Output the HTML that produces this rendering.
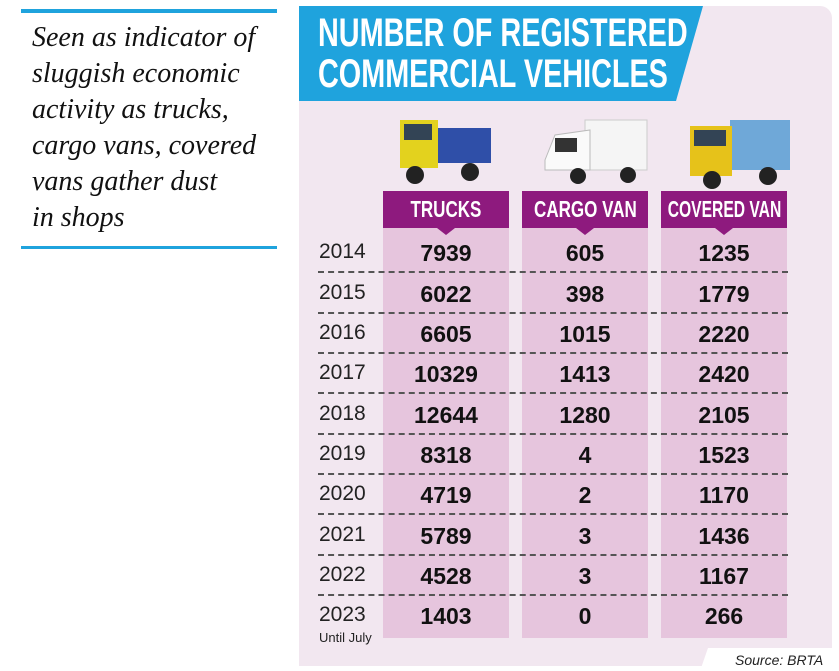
<!DOCTYPE html>
<html><head><meta charset="utf-8"><style>
body{margin:0;width:839px;height:671px;background:#fff;position:relative;overflow:hidden;font-family:"Liberation Sans",sans-serif}
.abs{position:absolute}
.txt{left:32px;top:20px;font-family:"Liberation Serif",serif;font-style:italic;font-size:28px;line-height:36px;color:#111;white-space:nowrap}
.panel{left:299px;top:6px;width:533px;height:660px;background:#f2e7f0;border-radius:0 12px 0 0}
.col{background:#e6c5dd}
.hd{color:#fff;font-weight:bold;font-size:23px;line-height:37px;width:126px;white-space:nowrap;display:flex;justify-content:center}
.hd span{display:inline-block;transform:scaleX(.74)}
.yr{left:319px;font-size:21px;color:#222}
.num{font-weight:bold;font-size:23px;text-align:center;width:126px;color:#111}
.dash{left:318px;width:470px;border-top:2px dashed #555}
</style></head><body>
<div class="abs" style="left:21px;top:9px;width:256px;height:4px;background:#1fa3dd"></div>
<div class="abs" style="left:21px;top:246px;width:256px;height:3px;background:#1fa3dd"></div>
<div class="abs txt">Seen as indicator of<br>sluggish economic<br>activity as trucks,<br>cargo vans, covered<br>vans gather dust<br>in shops</div>
<div class="abs panel"></div>
<svg class="abs" style="left:299px;top:6px" width="410" height="96"><polygon points="0,0 404,0 377,95 0,95" fill="#1fa3dd"/></svg>
<div class="abs" style="left:318px;top:13px;color:#fff;font-weight:bold;font-size:40px;line-height:41px;transform:scaleX(.72);transform-origin:left top;white-space:nowrap">NUMBER OF REGISTERED<br>COMMERCIAL VEHICLES</div>
<div class="abs col" style="left:383px;top:191px;width:126px;height:447px"></div>
<div class="abs col" style="left:522px;top:191px;width:126px;height:447px"></div>
<div class="abs col" style="left:661px;top:191px;width:126px;height:447px"></div>
<div class="abs" style="left:383px;top:191px;width:126px;height:37px;background:#8e1a7e"></div>
<div class="abs" style="left:522px;top:191px;width:126px;height:37px;background:#8e1a7e"></div>
<div class="abs" style="left:661px;top:191px;width:126px;height:37px;background:#8e1a7e"></div>
<svg class="abs" style="left:0;top:0" width="839" height="671">
<polygon points="437,228 455,228 446,235" fill="#8e1a7e"/>
<polygon points="576,228 594,228 585,235" fill="#8e1a7e"/>
<polygon points="715,228 733,228 724,235" fill="#8e1a7e"/>
<rect x="433" y="128" width="58" height="35" fill="#2f4fa8"/><rect x="400" y="120" width="38" height="48" fill="#e3d21e"/><rect x="404" y="124" width="28" height="16" fill="#345"/><circle cx="415" cy="175" r="9" fill="#222"/><circle cx="470" cy="172" r="9" fill="#222"/>
<rect x="585" y="120" width="62" height="50" fill="#f5f5f5" stroke="#ccc"/><path d="M545,160 L555,135 L590,130 L590,170 L545,170Z" fill="#fafafa" stroke="#bbb"/><rect x="555" y="138" width="22" height="14" fill="#333"/><circle cx="578" cy="176" r="8" fill="#222"/><circle cx="628" cy="175" r="8" fill="#222"/>
<rect x="730" y="120" width="60" height="50" fill="#6fa8d8"/><rect x="690" y="126" width="42" height="50" fill="#e6c21a"/><rect x="694" y="130" width="32" height="16" fill="#345"/><circle cx="712" cy="180" r="9" fill="#222"/><circle cx="768" cy="176" r="9" fill="#222"/>
</svg>
<div class="abs hd" style="left:383px;top:191px"><span>TRUCKS</span></div>
<div class="abs hd" style="left:522px;top:191px"><span>CARGO VAN</span></div>
<div class="abs hd" style="left:661px;top:191px"><span style="transform:scaleX(.68)">COVERED VAN</span></div>
<div class="abs yr" style="top:240px">2014</div><div class="abs num" style="left:383px;top:240px">7939</div><div class="abs num" style="left:522px;top:240px">605</div><div class="abs num" style="left:661px;top:240px">1235</div><div class="abs dash" style="top:271px"></div>
<div class="abs yr" style="top:281px">2015</div><div class="abs num" style="left:383px;top:281px">6022</div><div class="abs num" style="left:522px;top:281px">398</div><div class="abs num" style="left:661px;top:281px">1779</div><div class="abs dash" style="top:312px"></div>
<div class="abs yr" style="top:321px">2016</div><div class="abs num" style="left:383px;top:321px">6605</div><div class="abs num" style="left:522px;top:321px">1015</div><div class="abs num" style="left:661px;top:321px">2220</div><div class="abs dash" style="top:352px"></div>
<div class="abs yr" style="top:361px">2017</div><div class="abs num" style="left:383px;top:361px">10329</div><div class="abs num" style="left:522px;top:361px">1413</div><div class="abs num" style="left:661px;top:361px">2420</div><div class="abs dash" style="top:392px"></div>
<div class="abs yr" style="top:402px">2018</div><div class="abs num" style="left:383px;top:402px">12644</div><div class="abs num" style="left:522px;top:402px">1280</div><div class="abs num" style="left:661px;top:402px">2105</div><div class="abs dash" style="top:433px"></div>
<div class="abs yr" style="top:442px">2019</div><div class="abs num" style="left:383px;top:442px">8318</div><div class="abs num" style="left:522px;top:442px">4</div><div class="abs num" style="left:661px;top:442px">1523</div><div class="abs dash" style="top:473px"></div>
<div class="abs yr" style="top:482px">2020</div><div class="abs num" style="left:383px;top:482px">4719</div><div class="abs num" style="left:522px;top:482px">2</div><div class="abs num" style="left:661px;top:482px">1170</div><div class="abs dash" style="top:513px"></div>
<div class="abs yr" style="top:523px">2021</div><div class="abs num" style="left:383px;top:523px">5789</div><div class="abs num" style="left:522px;top:523px">3</div><div class="abs num" style="left:661px;top:523px">1436</div><div class="abs dash" style="top:554px"></div>
<div class="abs yr" style="top:563px">2022</div><div class="abs num" style="left:383px;top:563px">4528</div><div class="abs num" style="left:522px;top:563px">3</div><div class="abs num" style="left:661px;top:563px">1167</div><div class="abs dash" style="top:594px"></div>
<div class="abs yr" style="top:603px">2023</div><div class="abs num" style="left:383px;top:603px">1403</div><div class="abs num" style="left:522px;top:603px">0</div><div class="abs num" style="left:661px;top:603px">266</div>
<div class="abs" style="left:319px;top:630px;font-size:13px;color:#222">Until July</div>
<svg class="abs" style="left:700px;top:648px" width="139" height="23"><polygon points="8,0 139,0 139,23 0,23" fill="#fff"/></svg>
<div class="abs" style="left:735px;top:652px;font-size:14px;font-style:italic;color:#222">Source: BRTA</div>
</body></html>
